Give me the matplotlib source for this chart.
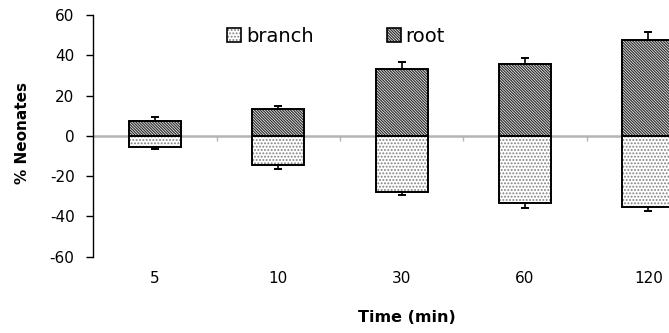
import matplotlib
matplotlib.use("Agg")
import matplotlib.pyplot as plt
from matplotlib.patches import Patch
from matplotlib.legend_handler import HandlerTuple
import numpy as np

plt.rcParams['font.family'] = ['DejaVu Sans']
plt.rcParams['axes.unicode_minus'] = False
plt.rcParams['hatch.linewidth'] = 0.9

times = ["5", "10", "30", "60", "120"]
root = [7.6, 13.4, 33.4, 35.7, 47.6]
root_err = [1.7, 1.6, 3.2, 3.0, 4.0]
branch = [-5.3, -14.5, -27.8, -33.3, -35.2]
branch_err = [1.3, 1.8, 1.7, 2.7, 2.0]

W, H = 669, 333
fig = plt.figure(figsize=(W / 100, H / 100), dpi=100)
left, right, top, bottom = 93.3, 710.0, 15.0, 256.7
ax = fig.add_axes([left / W, 1 - bottom / H, (right - left) / W, (bottom - top) / H])

x = np.arange(len(times))
bw = 0.42
root_hatch = '\\' * 12
branch_hatch = '.' * 5
root_hc = '#303030'
branch_hc = '#808080'

# hatched fills, then black outlines on top
ax.bar(x, root, width=bw, color='white', edgecolor=root_hc, linewidth=0,
       hatch=root_hatch, zorder=2)
ax.bar(x, branch, width=bw, color='white', edgecolor=branch_hc, linewidth=0,
       hatch=branch_hatch, zorder=2)
ax.bar(x, root, width=bw, fill=False, edgecolor='black', linewidth=1.4, zorder=3)
ax.bar(x, branch, width=bw, fill=False, edgecolor='black', linewidth=1.4, zorder=3)
ax.errorbar(x, root, yerr=[np.zeros(len(x)), root_err], fmt='none',
            ecolor='black', elinewidth=1.2, capsize=3, capthick=1.4, zorder=4)
ax.errorbar(x, branch, yerr=[branch_err, np.zeros(len(x))], fmt='none',
            ecolor='black', elinewidth=1.2, capsize=3, capthick=1.4, zorder=4)

ax.set_xlim(-0.5, len(times) - 0.5)
ax.set_ylim(-60, 60)
ax.set_yticks(np.arange(-60, 61, 20))
ax.tick_params(axis='y', direction='out', length=5, width=1, labelsize=11, pad=8.5)

for s in ['top', 'right', 'bottom']:
    ax.spines[s].set_visible(False)
ax.spines['left'].set_linewidth(1)

ax.set_xticks(x, times)
ax.tick_params(axis='x', length=0, labelsize=11, pad=10.5)

# zero line with category separator ticks
ax.axhline(0, color='#b4b4b4', linewidth=1.8, zorder=1)
ax.vlines(np.arange(0.5, len(times) - 0.5, 1.0), -2.6, 0, color='#b4b4b4',
          linewidth=1, zorder=1)

fig.text(23 / W, 1 - 132.5 / H, '% Neonates', fontsize=11, fontweight='bold',
         rotation=90, ha='center', va='center')
fig.text(407 / W, 1 - 318 / H, 'Time (min)', fontsize=11.5, fontweight='bold',
         ha='center', va='center')

def legend_key(hatch, hc):
    return (Patch(facecolor='white', edgecolor=hc, linewidth=0, hatch=hatch),
            Patch(fill=False, edgecolor='black', linewidth=1.2))

fig.legend([legend_key(branch_hatch, branch_hc), legend_key(root_hatch, root_hc)],
           ['branch', 'root'], handler_map={tuple: HandlerTuple(ndivide=1, pad=0)},
           loc='center left', bbox_to_anchor=(227 / W, 1 - 36 / H), ncol=2,
           frameon=False, fontsize=14, handlelength=0.72, handleheight=0.72,
           handletextpad=0.26, columnspacing=3.75, borderpad=0, borderaxespad=0)

fig.savefig('out.png', dpi=100)
